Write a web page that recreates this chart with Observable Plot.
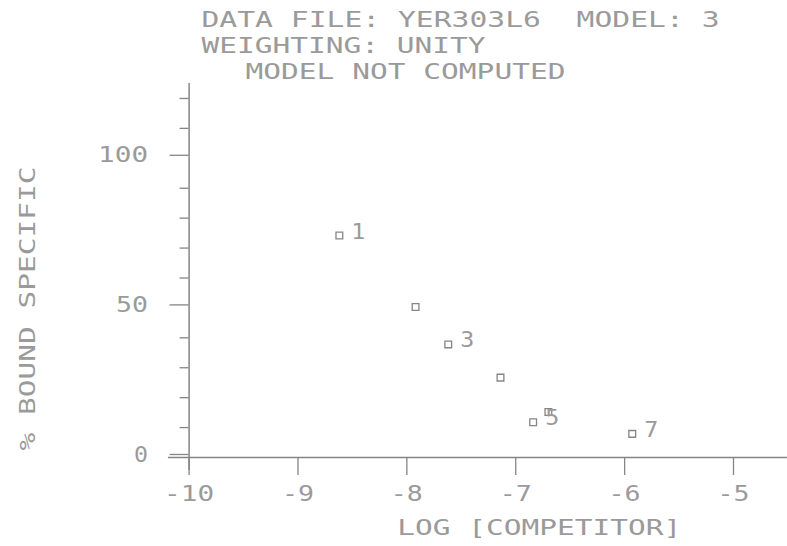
<!DOCTYPE html>
<html>
<head>
<meta charset="utf-8">
<script src="https://cdn.jsdelivr.net/npm/d3@7"></script>
<script src="https://cdn.jsdelivr.net/npm/@observablehq/plot@0.6"></script>
<style>
  html, body { margin: 0; padding: 0; background: #ffffff; }
</style>
</head>
<body>
<div id="chart"></div>
<script>
// ---- data ----
const pointIds = [1, 2, 3, 4, 5, 6, 7];
const logCompetitor = [-8.62, -7.92, -7.62, -7.14, -6.84, -6.70, -5.93];
const boundSpecific = [74.2, 50.3, 37.8, 26.7, 11.8, 15.2, 7.9];
const labeledIds = [1, 3, 5, 7];
const xTicks = [-10, -9, -8, -7, -6, -5];
const yMajorTicks = [0, 50, 100];
const yMinorTicks = [10, 20, 30, 40, 60, 70, 80, 90, 110, 120];
const titleLine1 = "DATA FILE: YER303L6\u00A0\u00A0MODEL: 3";
const titleLine2 = "WEIGHTING: UNITY";
const titleLine3 = "MODEL NOT COMPUTED";
const xLabel = "LOG [COMPETITOR]";
const yLabel = "% BOUND SPECIFIC";

const points = pointIds.map((id, i) => ({id, x: logCompetitor[i], y: boundSpecific[i]}));
const labeled = points.filter(d => labeledIds.includes(d.id));

const ink = "#9a9a9a";
const lineInk = "#858585";
const FS = 22;
const PITCH = 18;   // plotter character pitch
const GLYPH = 14;   // plotter glyph width

const chart = Plot.plot({
  width: 787,
  height: 546,
  marginLeft: 188.6,
  marginRight: 54,
  marginTop: 83,
  marginBottom: 89,
  style: {
    fontFamily: "'DejaVu Sans Mono', monospace",
    fontSize: FS + "px",
    color: ink,
    background: "#ffffff"
  },
  x: {domain: [-10, -5]},
  y: {domain: [0, 125]},
  marks: [
    // axis lines (crossing at origin)
    Plot.ruleX([-10], {y1: -4.35, y2: 125, stroke: lineInk, strokeWidth: 1.5}),
    Plot.ruleY([0], {x1: -10.19, x2: -4.505, stroke: lineInk, strokeWidth: 1.5}),
    // x axis
    Plot.axisX(xTicks, {
      anchor: "bottom", tickSize: 18, tickPadding: 10, label: null,
      stroke: lineInk, strokeWidth: 1.3, fontSize: FS,
      tickFormat: d => String(d).replace("\u2212", "-")
    }),
    // y axis major
    Plot.axisY(yMajorTicks, {
      anchor: "left", tickSize: 19, tickPadding: 22, label: null,
      stroke: lineInk, strokeWidth: 1.3, fontSize: FS, dy: -3,
      tickFormat: d => String(d)
    }),
    // y axis minor
    Plot.axisY(yMinorTicks, {
      anchor: "left", tickSize: 9, label: null,
      stroke: lineInk, strokeWidth: 1.3, tickFormat: () => ""
    }),
    // data points
    Plot.dot(points, {x: "x", y: "y", symbol: "square", r: 3.8, stroke: lineInk, strokeWidth: 1.3, fill: "#ffffff"}),
    Plot.text(labeled, {x: "x", y: "y", text: d => String(d.id), textAnchor: "start", dx: 12, dy: -4, fontSize: FS, fill: ink}),
    // titles
    Plot.text([titleLine1], {frameAnchor: "top-left", textAnchor: "start", lineAnchor: "middle", dx: 12.4, dy: -64, fontSize: FS, fill: ink}),
    Plot.text([titleLine2], {frameAnchor: "top-left", textAnchor: "start", lineAnchor: "middle", dx: 12.4, dy: -38, fontSize: FS, fill: ink}),
    Plot.text([titleLine3], {frameAnchor: "top-left", textAnchor: "start", lineAnchor: "middle", dx: 56.4, dy: -12, fontSize: FS, fill: ink}),
    // axis titles
    Plot.text([xLabel], {frameAnchor: "bottom", textAnchor: "middle", lineAnchor: "middle", dx: 78, dy: 70, fontSize: FS, fill: ink}),
    Plot.text([yLabel], {frameAnchor: "left", textAnchor: "middle", lineAnchor: "middle", rotate: -90, dx: -161, dy: 38, fontSize: FS, fill: ink})
  ]
});

// stretch every label to the plotter's wide character pitch
d3.select(chart).selectAll("text").each(function () {
  const n = this.textContent.length;
  if (n > 0) {
    this.setAttribute("textLength", (n - 1) * PITCH + GLYPH);
    this.setAttribute("lengthAdjust", "spacingAndGlyphs");
  }
});

document.getElementById("chart").appendChild(chart);
</script>
</body>
</html>
